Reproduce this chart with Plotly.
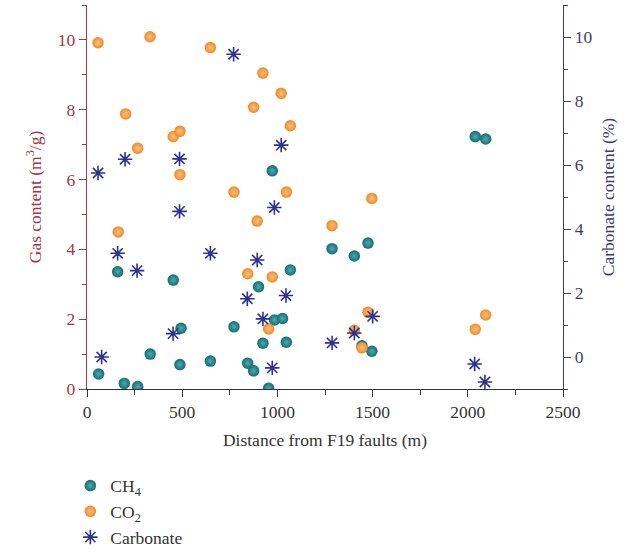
import plotly.graph_objects as go

# CH4 gas content (m3/g) vs distance (m)
ch4_x = [61, 161, 196, 266, 332, 453, 494, 488, 648, 772, 844, 875, 901, 924, 954, 973, 985, 1027, 1047, 1068,
         1287, 1404, 1476, 1444, 1496, 2039, 2094]
ch4_y = [0.43, 3.36, 0.16, 0.07, 1.0, 3.12, 1.74, 0.70, 0.80, 1.78, 0.74, 0.52, 2.93, 1.31, 0.02, 6.25, 1.98, 2.02, 1.34, 3.41,
         4.02, 3.81, 4.18, 1.24, 1.08, 7.23, 7.16]

# CO2 gas content (m3/g)
co2_x = [58, 331, 648, 924, 1020, 875, 1068, 203, 266, 453, 488, 488, 772, 1047, 894, 164, 844, 973, 954,
         1287, 1496, 1476, 1404, 1444, 2039, 2094]
co2_y = [9.92, 10.09, 9.78, 9.05, 8.47, 8.07, 7.54, 7.88, 6.90, 7.23, 7.38, 6.14, 5.64, 5.64, 4.81, 4.50, 3.30, 3.21, 1.72,
         4.68, 5.46, 2.20, 1.68, 1.18, 1.71, 2.12]

# Carbonate content (%)
carb_x = [58, 77, 200, 161, 263, 486, 486, 452, 648, 770, 842, 894, 924, 973, 984, 1020, 1045,
          1287, 1404, 1500, 2036, 2090]
carb_y = [5.75, 0.0, 6.18, 3.24, 2.70, 6.19, 4.55, 0.73, 3.24, 9.46, 1.82, 3.03, 1.19, -0.34, 4.67, 6.62, 1.92,
          0.44, 0.75, 1.27, -0.22, -0.78]

x_ticks = [0, 500, 1000, 1500, 2000, 2500]
y_ticks = [0, 2, 4, 6, 8, 10]

FONT = "Liberation Serif"
RED = "#a8353f"
NAVY = "#3f3d6e"
STAR = "#2e3192"

fig = go.Figure()
fig.add_trace(go.Scatter(
    x=ch4_x, y=ch4_y, mode="markers", name="CH<sub>4</sub>",
    marker=dict(size=11.5, color="#126f75", line=dict(width=0),
                gradient=dict(type="radial", color="#4fa9ae")),
))
fig.add_trace(go.Scatter(
    x=co2_x, y=co2_y, mode="markers", name="CO<sub>2</sub>",
    marker=dict(size=11.5, color="#f08a25", line=dict(width=0),
                gradient=dict(type="radial", color="#fbc486")),
))
fig.add_trace(go.Scatter(
    x=carb_x, y=carb_y, mode="markers", name="Carbonate", yaxis="y2",
    marker=dict(size=12, symbol="asterisk-open", color=STAR, line=dict(width=1.6, color=STAR)),
))

fig.update_layout(
    width=644, height=553,
    margin=dict(l=87, r=81, t=5, b=164, autoexpand=False),
    paper_bgcolor="white", plot_bgcolor="white",
    font=dict(family=FONT, size=17.5, color="#333333"),
    showlegend=True,
    legend=dict(x=-0.035, xanchor="left", y=-0.205, yanchor="top",
                font=dict(family=FONT, size=17.5, color="#333333"),
                bgcolor="rgba(0,0,0,0)", tracegroupgap=0, itemwidth=30),
    xaxis=dict(range=[0, 2500], tickvals=x_ticks, showgrid=False, zeroline=False, automargin=False,
               showline=True, linecolor="#333333", linewidth=1.3,
               ticks="outside", ticklen=7, tickwidth=1.2, tickcolor="#333333",
               minor=dict(dtick=250, ticks="outside", ticklen=5, tickwidth=1, tickcolor="#333333"),
               tickfont=dict(family=FONT, size=17.5, color="#333333"),
               title=dict(text="Distance from F19 faults (m)", standoff=12,
                          font=dict(family=FONT, size=17.5, color="#333333"))),
    yaxis=dict(range=[0, 11], tickvals=y_ticks, showgrid=False, zeroline=False, automargin=False,
               showline=True, linecolor=RED, linewidth=1.3,
               ticks="outside", ticklen=7, tickwidth=1.2, tickcolor=RED,
               minor=dict(dtick=1, ticks="outside", ticklen=4, tickwidth=1, tickcolor=RED),
               tickfont=dict(family=FONT, size=17.5, color=RED),
               title=dict(text="Gas content (m<sup>3</sup>/g)", standoff=11,
                          font=dict(family=FONT, size=17.5, color=RED))),
    yaxis2=dict(range=[-1, 11], tickvals=y_ticks, overlaying="y", side="right", automargin=False,
                showgrid=False, zeroline=False,
                showline=True, linecolor=NAVY, linewidth=1.3,
                ticks="outside", ticklen=7, tickwidth=1.2, tickcolor=NAVY,
                minor=dict(dtick=1, ticks="outside", ticklen=4, tickwidth=1, tickcolor=NAVY),
                tickfont=dict(family=FONT, size=17.5, color=NAVY),
                title=dict(text="Carbonate content (%)", standoff=10,
                           font=dict(family=FONT, size=17.5, color=NAVY))),
)

fig.write_html("out.html", config={"displayModeBar": False},
               post_script="document.body.style.margin='0';document.body.style.overflow='hidden';")
